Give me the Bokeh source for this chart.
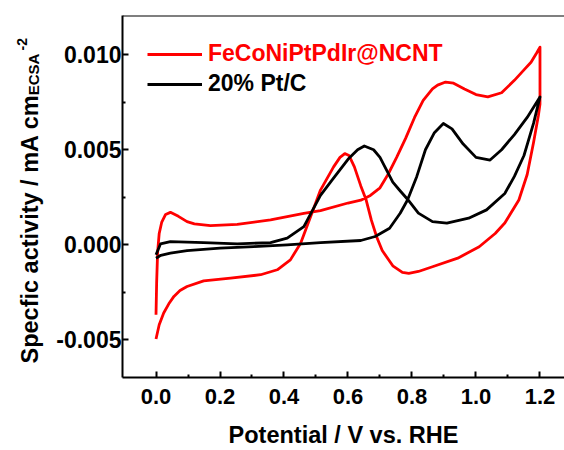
import math
from bokeh.plotting import figure
from bokeh.layouts import row
from bokeh.models import Span, Legend, LegendItem, FixedTicker, NumeralTickFormatter
from bokeh.core.properties import value
from bokeh.embed import file_html
from bokeh.resources import INLINE

# ---- data ----
red_x = [0.000, 0.010, 0.024, 0.040, 0.056, 0.075, 0.097, 0.149, 0.233, 0.327,
         0.379, 0.420, 0.452, 0.483, 0.514, 0.555, 0.575, 0.590, 0.603, 0.620,
         0.640, 0.656, 0.673, 0.690, 0.707, 0.740, 0.770, 0.790, 0.820, 0.864,
         0.943, 1.010, 1.060, 1.090, 1.134, 1.160, 1.180, 1.195, 1.200, 1.200,
         1.190, 1.172, 1.150, 1.120, 1.080, 1.037, 1.000, 0.964, 0.930, 0.905,
         0.880, 0.864, 0.835, 0.808, 0.780, 0.752, 0.725, 0.700, 0.670, 0.640,
         0.600, 0.514, 0.462, 0.358, 0.254, 0.170, 0.120, 0.097, 0.070, 0.045,
         0.030, 0.018, 0.010, 0.005, 0.002, 0.000]
red_y = [-0.00495, -0.0042, -0.00358, -0.0031, -0.00271, -0.0024, -0.00219, -0.00189, -0.00175, -0.00157,
         -0.00131, -0.00079, 0.00009, 0.00148, 0.00288, 0.0041, 0.0046, 0.0048, 0.0047, 0.0041,
         0.0031, 0.0024, 0.0013, 0.0004, -0.0003, -0.0011, -0.00145, -0.0015, -0.0014, -0.00115,
         -0.0007, -0.0001, 0.0006, 0.00115, 0.00236, 0.0037, 0.0054, 0.0068, 0.0074, 0.0104,
         0.0101, 0.0096, 0.0092, 0.00865, 0.0080, 0.00778, 0.0079, 0.0082, 0.0085, 0.00856,
         0.0084, 0.0082, 0.0076, 0.0067, 0.0056, 0.0046, 0.0037, 0.0030, 0.0026, 0.00235,
         0.0022, 0.0018, 0.00166, 0.00131, 0.00108, 0.00101, 0.0011, 0.00122, 0.0015, 0.00171,
         0.0016, 0.0012, 0.0006, -0.0004, -0.002, -0.00367]

black_x = [0.000, 0.015, 0.045, 0.097, 0.200, 0.306, 0.410, 0.514, 0.640, 0.685,
           0.730, 0.763, 0.786, 0.815, 0.842, 0.870, 0.898, 0.925, 0.960, 1.000,
           1.044, 1.080, 1.120, 1.160, 1.200, 1.180, 1.150, 1.120, 1.090, 1.033,
           0.977, 0.909, 0.864, 0.820, 0.786, 0.760, 0.740, 0.700, 0.680, 0.651,
           0.630, 0.600, 0.550, 0.514, 0.462, 0.410, 0.358, 0.254, 0.149, 0.045,
           0.014, 0.000]
black_y = [-0.0007, -0.00055, -0.00044, -0.0003, -0.00017, -0.00009, 0.0, 0.00012, 0.00023, 0.00044,
           0.00087, 0.00166, 0.00236, 0.0036, 0.0050, 0.0059, 0.00638, 0.0061, 0.0053, 0.0046,
           0.00446, 0.0050, 0.0058, 0.0067, 0.00778, 0.0064, 0.0047, 0.0036, 0.0027, 0.00184,
           0.0014, 0.00114, 0.00122, 0.00167, 0.0024, 0.0029, 0.0033, 0.0046, 0.0050, 0.0052,
           0.0050, 0.0045, 0.0034, 0.0026, 0.00096, 0.00035, 0.00012, 0.00005, 0.00012, 0.00017,
           0.00005, -0.00052]

x_ticks = [0.0, 0.2, 0.4, 0.6, 0.8, 1.0, 1.2]
x_minor = [0.1, 0.3, 0.5, 0.7, 0.9, 1.1]
y_ticks = [-0.005, 0.0, 0.005, 0.010]
y_minor = [-0.0025, 0.0025, 0.0075]

series_names = ["FeCoNiPtPdIr@NCNT", "20% Pt/C"]
x_title = "Potential / V vs. RHE"
y_title_parts = ["Specfic activity / mA cm", "ECSA", "-2"]

FONT = "Liberation Sans"
X0, X1 = -0.1047, 1.2766
Y0, Y1 = -0.006974, 0.01206

W, H = 564, 450
LW = 50
FL, FR, FT, FB = 122, 564, 15, 378

# ---------- strip with the rotated y-axis title ----------
# (the row aligns this strip's frame with the main frame: page y FT..FB)
t = figure(width=LW, height=H, x_range=(0, LW), y_range=(H - FB, H - FT), title=None,
           output_backend="svg", toolbar_location=None,
           min_border_left=0, min_border_right=0, min_border_top=0, min_border_bottom=0)
t.axis.visible = False
t.outline_line_color = None
t.background_fill_color = "white"
t.border_fill_color = "white"
t.xgrid.visible = False
t.ygrid.visible = False
title_pos = [(29, 364, "23.5px"), (33, 95, "15px"), (21, 50, "14px")]
for txt, (bx, by, fs) in zip(y_title_parts, title_pos):
    t.text(x=[bx], y=[H - by], text=[txt], angle=math.pi / 2,
           text_font=value(FONT), text_font_style="bold", text_font_size=fs,
           text_color="black", text_baseline="alphabetic", text_align="left")

# ---------- main plot ----------
p = figure(width=W - LW, height=H, x_range=(X0, X1), y_range=(Y0, Y1), title=None,
           output_backend="svg", toolbar_location=None,
           min_border_left=FL - LW, min_border_right=W - FR, min_border_top=FT,
           min_border_bottom=H - FB)
p.background_fill_color = "white"
p.border_fill_color = "white"
p.outline_line_color = None
p.xgrid.visible = False
p.ygrid.visible = False

r_red = p.line(red_x, red_y, line_color="#FF0000", line_width=2.8, line_join="round")
r_blk = p.line(black_x, black_y, line_color="#000000", line_width=2.8, line_join="round")

p.add_layout(Span(location=Y1, dimension="width", line_color="black", line_width=2))

for ax in (p.xaxis[0], p.yaxis[0]):
    ax.axis_line_width = 2
    ax.axis_line_color = "black"
    ax.major_tick_line_width = 2
    ax.minor_tick_line_width = 2
    ax.major_tick_in = 6
    ax.major_tick_out = 0
    ax.minor_tick_in = 3
    ax.minor_tick_out = 0
    ax.major_label_text_font = FONT
    ax.major_label_text_font_style = "bold"
    ax.major_label_text_color = "black"

p.xaxis.major_label_text_font_size = "22px"
p.yaxis.major_label_text_font_size = "23px"

p.xaxis.ticker = FixedTicker(ticks=x_ticks, minor_ticks=x_minor)
p.xaxis.formatter = NumeralTickFormatter(format="0.0")
p.xaxis.major_label_standoff = 11
p.xaxis.axis_label = x_title
p.xaxis.axis_label_text_font = FONT
p.xaxis.axis_label_text_font_style = "bold"
p.xaxis.axis_label_text_font_size = "23.5px"
p.xaxis.axis_label_text_color = "black"
p.xaxis.axis_label_standoff = 15

p.yaxis.ticker = FixedTicker(ticks=y_ticks, minor_ticks=y_minor)
p.yaxis.formatter = NumeralTickFormatter(format="0.000")
p.yaxis.major_label_standoff = 1

def make_legend(item_label, renderer, color, loc_y):
    return Legend(items=[LegendItem(label=item_label, renderers=[renderer])],
                  location=(25, loc_y), glyph_width=55, glyph_height=26, label_height=26,
                  label_standoff=6, padding=0, margin=0, spacing=0,
                  border_line_alpha=0, background_fill_alpha=0,
                  label_text_font=FONT, label_text_font_style="bold",
                  label_text_font_size="23px", label_text_color=color)

p.add_layout(make_legend(series_names[0], r_red, "#FF0000", 310))
p.add_layout(make_legend(series_names[1], r_blk, "#000000", 280))

layout = row(t, p, spacing=0)
open("out.html", "w").write(file_html(layout, INLINE))
